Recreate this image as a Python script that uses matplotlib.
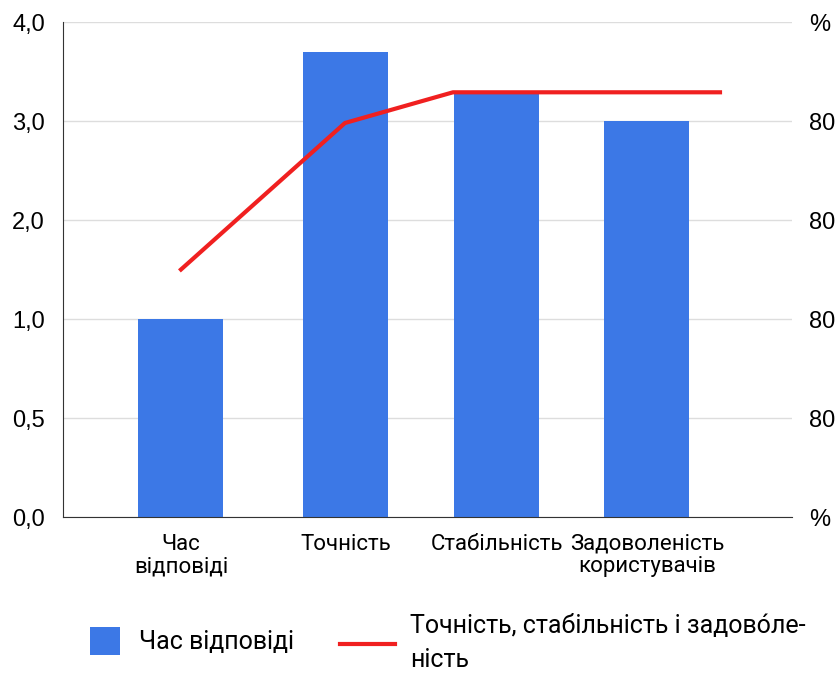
import numpy as np
import matplotlib
matplotlib.use("Agg")
import matplotlib.pyplot as plt
from matplotlib.lines import Line2D
from matplotlib.patches import Patch

# дані з графіка
categories = ["Час\nвідповіді", "Точність", "Стабільність", "Задоволеність\nкористувачів"]
bar_values = [1.0, 3.7, 3.3, 3.0]
line_values = [2.5, 3.98, 4.29, 4.29]

left_ticks = [0.0, 0.5, 1.0, 2.0, 3.0, 4.0]
left_labels = ["0,0", "0,5", "1,0", "2,0", "3,0", "4,0"]
right_labels = ["%", "80", "80", "80", "80", "%"]

bar_x = [1.18, 2.83, 4.34, 5.84]
line_x = [1.18, 2.82, 3.90, 6.57]

# нерівномірна ліва шкала: кожна позначка на однаковій відстані
grid_pos = np.arange(len(left_ticks))
def fwd(v):
    return np.interp(v, left_ticks, grid_pos, left=0, right=grid_pos[-1])
def inv(p):
    return np.interp(p, grid_pos, left_ticks)

plt.rcParams["font.family"] = ["Liberation Sans", "DejaVu Sans"]

fig = plt.figure(figsize=(8.35, 6.77), dpi=100)
ax = fig.add_axes([0.0754, 0.2363, 0.8731, 0.7312])

ax.set_yscale("function", functions=(fwd, inv))
ax.set_ylim(0, 4.0)
ax.set_xlim(0, 7.29)

ax.bar(bar_x, bar_values, width=0.85, color="#3c78e6", zorder=2)

ax.set_yticks(left_ticks)
ax.set_yticklabels(left_labels, fontsize=17)
ax.tick_params(axis="y", length=0, pad=13)
ax.set_xticks(bar_x)
ax.set_xticklabels(categories, fontsize=16, family=["Roboto", "DejaVu Sans"], linespacing=1.1)
ax.tick_params(axis="x", length=0, pad=12)
ax.grid(axis="y", color="#dddddd", linewidth=1, zorder=0)
for s in ["top", "right"]:
    ax.spines[s].set_visible(False)
ax.spines["left"].set_color("#333333")
ax.spines["bottom"].set_color("#333333")

ax2 = ax.twinx()
ax2.set_ylim(0, 5)
ax2.plot(line_x, line_values, color="#f02020", linewidth=3, zorder=3)
ax2.set_yticks(np.arange(6))
ax2.set_yticklabels(right_labels, fontsize=17)
ax2.tick_params(axis="y", length=0, pad=12)
for s in ax2.spines.values():
    s.set_visible(False)

font = {"family": ["Roboto", "DejaVu Sans"], "size": 18}
fig.legend([Patch(facecolor="#3c78e6", edgecolor="none")], ["Час відповіді"],
           loc="center left", bbox_to_anchor=(90 / 835, 1 - 641 / 677),
           frameon=False, prop=font, borderpad=0, borderaxespad=0,
           handlelength=1.2, handleheight=1.3, handletextpad=0.75)
fig.legend([Line2D([], [], color="#f02020", linewidth=3)],
           ["Точність, стабільність і задово\u0301ле-\nність"],
           loc="center left", bbox_to_anchor=(340 / 835, 1 - 643 / 677),
           frameon=False, prop=font, borderpad=0, borderaxespad=0,
           handlelength=2.2, handletextpad=0.6, labelspacing=0)
for t in fig.legends[1].get_texts():
    t.set_linespacing(1.55)

fig.savefig("out.png", dpi=100)
